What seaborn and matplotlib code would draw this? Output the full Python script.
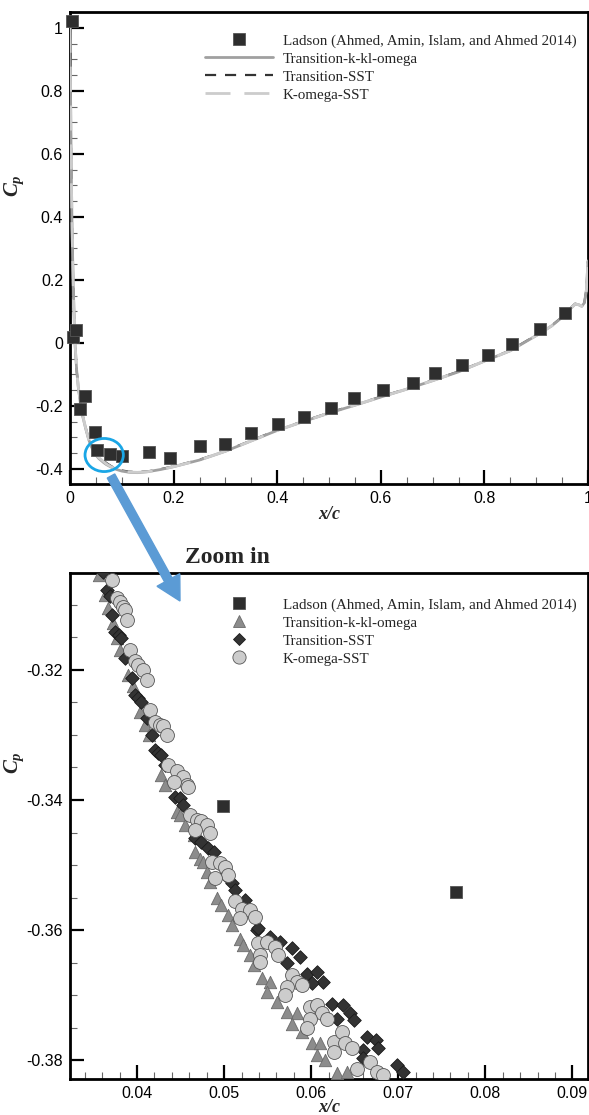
import numpy as np
import pandas as pd
import matplotlib
matplotlib.use("Agg")
import matplotlib.pyplot as plt
import seaborn as sns
from matplotlib.patches import Ellipse, FancyArrow
from matplotlib.lines import Line2D
from matplotlib.ticker import MultipleLocator, FuncFormatter

# ---------------- data ----------------
# Top panel: experimental Ladson data
lad_x = [0.003, 0.006, 0.011, 0.019, 0.029, 0.049, 0.052, 0.077, 0.100, 0.153, 0.194,
         0.250, 0.299, 0.349, 0.401, 0.452, 0.503, 0.548, 0.604, 0.662, 0.704, 0.757,
         0.807, 0.854, 0.908, 0.955]
lad_cp = [1.023, 0.018, 0.041, -0.210, -0.170, -0.282, -0.341, -0.354, -0.359, -0.348,
          -0.366, -0.327, -0.321, -0.285, -0.257, -0.234, -0.207, -0.176, -0.149, -0.128,
          -0.096, -0.070, -0.038, -0.004, 0.044, 0.096]

# Top panel: CFD curves
cfd_x = [0.0, 0.0005, 0.001, 0.002, 0.003, 0.004, 0.006, 0.008, 0.010, 0.013, 0.016,
         0.020, 0.025, 0.030, 0.036, 0.040, 0.045, 0.050, 0.055, 0.060, 0.065, 0.070,
         0.080, 0.090, 0.100, 0.115, 0.130, 0.150, 0.175, 0.200, 0.250, 0.300, 0.350,
         0.400, 0.450, 0.500, 0.550, 0.600, 0.650, 0.700, 0.750, 0.800, 0.850, 0.900,
         0.930, 0.950, 0.965, 0.975, 0.982, 0.988, 0.993, 0.997, 1.000]
cp_sst = [1.00, 0.90, 0.80, 0.62, 0.48, 0.36, 0.20, 0.08, -0.01, -0.09, -0.14,
          -0.19, -0.235, -0.268, -0.305, -0.323, -0.339, -0.350, -0.360, -0.367, -0.374, -0.381,
          -0.392, -0.400, -0.405, -0.409, -0.410, -0.408, -0.401, -0.392, -0.371, -0.343, -0.310,
          -0.277, -0.249, -0.222, -0.197, -0.171, -0.146, -0.119, -0.091, -0.057, -0.024, 0.024,
          0.055, 0.082, 0.108, 0.124, 0.122, 0.117, 0.128, 0.170, 0.26]
cp_kkl = [1.00, 0.90, 0.80, 0.62, 0.48, 0.36, 0.20, 0.08, -0.01, -0.09, -0.14,
          -0.19, -0.236, -0.270, -0.306, -0.325, -0.343, -0.356, -0.366, -0.373, -0.380, -0.386,
          -0.395, -0.402, -0.407, -0.411, -0.412, -0.409, -0.402, -0.393, -0.372, -0.344, -0.311,
          -0.278, -0.250, -0.223, -0.198, -0.172, -0.147, -0.120, -0.092, -0.058, -0.025, 0.023,
          0.054, 0.081, 0.107, 0.123, 0.121, 0.116, 0.127, 0.168, 0.26]
cp_kw = [1.00, 0.90, 0.80, 0.62, 0.48, 0.36, 0.20, 0.08, -0.01, -0.09, -0.14,
         -0.19, -0.235, -0.269, -0.306, -0.322, -0.340, -0.353, -0.363, -0.370, -0.377, -0.384,
         -0.394, -0.401, -0.406, -0.410, -0.411, -0.409, -0.402, -0.393, -0.372, -0.344, -0.311,
         -0.278, -0.250, -0.223, -0.198, -0.172, -0.147, -0.120, -0.092, -0.058, -0.025, 0.023,
         0.054, 0.081, 0.107, 0.123, 0.121, 0.116, 0.127, 0.168, 0.26]

# Bottom panel (zoom): Ladson points
zl_x = [0.0499, 0.0766]
zl_cp = [-0.3409, -0.3542]

# Bottom panel: Transition-k-kl-omega (triangles)
tk_x = [0.0356, 0.0363, 0.0367, 0.0372, 0.0377, 0.0381, 0.0390, 0.0395, 0.0403, 0.0409,
        0.0414, 0.0428, 0.0432, 0.0446, 0.0449, 0.0455, 0.0465, 0.0467, 0.0472, 0.0476,
        0.0480, 0.0484, 0.0492, 0.0497, 0.0505, 0.0509, 0.0518, 0.0522, 0.0530, 0.0534,
        0.0543, 0.0553, 0.0549, 0.0561, 0.0572, 0.0584, 0.0578, 0.0589, 0.0601, 0.0610,
        0.0607, 0.0616, 0.0630, 0.0641]
tk_cp = [-0.3054, -0.3085, -0.3105, -0.3128, -0.3151, -0.3170, -0.3208, -0.3225, -0.3264, -0.3285,
         -0.3300, -0.3362, -0.3377, -0.3418, -0.3423, -0.3438, -0.3454, -0.3480, -0.3490, -0.3495,
         -0.3510, -0.3526, -0.3551, -0.3562, -0.3577, -0.3592, -0.3613, -0.3623, -0.3638, -0.3654,
         -0.3674, -0.3680, -0.3695, -0.3710, -0.3726, -0.3728, -0.3744, -0.3756, -0.3774, -0.3774,
         -0.3792, -0.3800, -0.3820, -0.3818]

# Bottom panel: Transition-SST (diamonds)
ts_x = [0.0361, 0.0365, 0.0369, 0.0371, 0.0375, 0.0379, 0.0382, 0.0386, 0.0394, 0.0398,
        0.0401, 0.0405, 0.0411, 0.0417, 0.0421, 0.0424, 0.0428, 0.0432, 0.0444, 0.0449,
        0.0453, 0.0467, 0.0474, 0.0482, 0.0488, 0.0501, 0.0509, 0.0513, 0.0524, 0.0538,
        0.0539, 0.0553, 0.0564, 0.0578, 0.0587, 0.0572, 0.0595, 0.0607, 0.0614, 0.0601,
        0.0624, 0.0637, 0.0645, 0.0630, 0.0649, 0.0664, 0.0674, 0.0677, 0.0660, 0.0660,
        0.0699, 0.0706]
ts_cp = [-0.3050, -0.3077, -0.3087, -0.3115, -0.3141, -0.3146, -0.3151, -0.3182, -0.3212, -0.3238,
         -0.3243, -0.3249, -0.3274, -0.3300, -0.3323, -0.3328, -0.3331, -0.3346, -0.3395, -0.3397,
         -0.3408, -0.3459, -0.3464, -0.3474, -0.3480, -0.3515, -0.3528, -0.3538, -0.3554, -0.3600,
         -0.3597, -0.3610, -0.3618, -0.3628, -0.3641, -0.3651, -0.3667, -0.3664, -0.3680, -0.3682,
         -0.3713, -0.3715, -0.3728, -0.3736, -0.3738, -0.3764, -0.3769, -0.3782, -0.3785, -0.3797,
         -0.3808, -0.3818]

# Bottom panel: K-omega-SST (circles)
kw_x = [0.0371, 0.0377, 0.0380, 0.0384, 0.0386, 0.0388, 0.0392, 0.0398, 0.0401, 0.0407,
        0.0411, 0.0415, 0.0421, 0.0426, 0.0430, 0.0434, 0.0436, 0.0446, 0.0453, 0.0457,
        0.0442, 0.0459, 0.0461, 0.0469, 0.0474, 0.0480, 0.0484, 0.0467, 0.0486, 0.0495,
        0.0501, 0.0505, 0.0490, 0.0513, 0.0520, 0.0530, 0.0536, 0.0518, 0.0539, 0.0549,
        0.0559, 0.0562, 0.0541, 0.0541, 0.0578, 0.0584, 0.0589, 0.0572, 0.0570, 0.0599,
        0.0607, 0.0612, 0.0618, 0.0599, 0.0595, 0.0626, 0.0635, 0.0639, 0.0647, 0.0626,
        0.0653, 0.0668, 0.0676, 0.0683]
kw_cp = [-0.3062, -0.3089, -0.3095, -0.3103, -0.3108, -0.3123, -0.3169, -0.3187, -0.3192, -0.3200,
         -0.3215, -0.3262, -0.3280, -0.3285, -0.3287, -0.3300, -0.3346, -0.3356, -0.3364, -0.3377,
         -0.3372, -0.3380, -0.3423, -0.3431, -0.3433, -0.3438, -0.3451, -0.3446, -0.3495, -0.3497,
         -0.3503, -0.3515, -0.3520, -0.3556, -0.3567, -0.3569, -0.3580, -0.3582, -0.3620, -0.3618,
         -0.3626, -0.3638, -0.3638, -0.3649, -0.3669, -0.3680, -0.3685, -0.3687, -0.3700, -0.3718,
         -0.3715, -0.3728, -0.3736, -0.3736, -0.3751, -0.3772, -0.3756, -0.3774, -0.3782, -0.3787,
         -0.3813, -0.3803, -0.3818, -0.3823]

labels = ["Ladson (Ahmed, Amin, Islam, and Ahmed 2014)", "Transition-k-kl-omega",
          "Transition-SST", "K-omega-SST"]

# ---------------- style ----------------
sns.set_theme(style="ticks")
plt.rcParams["font.family"] = ["Liberation Sans", "DejaVu Sans"]
plt.rcParams["mathtext.fontset"] = "custom"
plt.rcParams["mathtext.it"] = "Liberation Serif:italic:bold"
plt.rcParams["mathtext.rm"] = "Liberation Serif:bold"
plt.rcParams["mathtext.bf"] = "Liberation Serif:bold"

W, H = 589, 1115
fig = plt.figure(figsize=(W / 100, H / 100), dpi=100)
ax1 = fig.add_axes([70 / W, 1 - 484 / H, 518 / W, 472 / H])
ax2 = fig.add_axes([70 / W, 1 - 1079 / H, 518 / W, 506 / H])

C_LAD = "#2e2e2e"
C_KKL_LINE = "#a0a0a0"
C_SST = "#333333"
C_KW_LINE = "#cccccc"

# ---------------- top panel ----------------
df_lad = pd.DataFrame({"x": lad_x, "cp": lad_cp})
df_cfd = pd.DataFrame({"x": cfd_x, "sst": cp_sst, "kkl": cp_kkl, "kw": cp_kw})

sns.lineplot(data=df_cfd, x="x", y="sst", ax=ax1, color=C_SST, lw=1.6,
             linestyle=(0, (5, 4)), sort=False, estimator=None, zorder=2)
sns.lineplot(data=df_cfd, x="x", y="kkl", ax=ax1, color=C_KKL_LINE, lw=2.0,
             sort=False, estimator=None, zorder=3)
sns.lineplot(data=df_cfd, x="x", y="kw", ax=ax1, color=C_KW_LINE, lw=2.0,
             linestyle=(0, (9, 5)), sort=False, estimator=None, zorder=4)
sns.scatterplot(data=df_lad, x="x", y="cp", ax=ax1, marker="s", s=85,
                color=C_LAD, edgecolor="#555555", linewidth=0.6, zorder=5, clip_on=False)

ax1.set_xlim(0, 1.0)
ax1.set_ylim(-0.448, 1.05)
ax1.xaxis.set_major_locator(MultipleLocator(0.2))
ax1.xaxis.set_minor_locator(MultipleLocator(0.05))
ax1.yaxis.set_major_locator(MultipleLocator(0.2))
ax1.yaxis.set_minor_locator(MultipleLocator(0.05))
fmt_g = FuncFormatter(lambda v, p: "%g" % round(v, 6))
ax1.xaxis.set_major_formatter(fmt_g)
ax1.yaxis.set_major_formatter(fmt_g)

ell = Ellipse((0.066, -0.356), width=0.074, height=0.105, fill=False,
              edgecolor="#1aa6e6", lw=2.0, zorder=6)
ax1.add_patch(ell)

# ---------------- bottom panel ----------------
df_tk = pd.DataFrame({"x": tk_x, "cp": tk_cp})
df_ts = pd.DataFrame({"x": ts_x, "cp": ts_cp})
df_kw = pd.DataFrame({"x": kw_x, "cp": kw_cp})
df_zl = pd.DataFrame({"x": zl_x, "cp": zl_cp})

sns.scatterplot(data=df_tk, x="x", y="cp", ax=ax2, marker="^", s=80,
                color="#8c8c8c", edgecolor="#6a6a6a", linewidth=0.6, zorder=3)
sns.scatterplot(data=df_ts, x="x", y="cp", ax=ax2, marker="D", s=48,
                color="#333333", edgecolor="#1a1a1a", linewidth=0.6, zorder=4)
sns.scatterplot(data=df_kw, x="x", y="cp", ax=ax2, marker="o", s=100,
                color="#cccccc", edgecolor="#555555", linewidth=0.6, zorder=5)
sns.scatterplot(data=df_zl, x="x", y="cp", ax=ax2, marker="s", s=75,
                color=C_LAD, edgecolor="#555555", linewidth=0.6, zorder=6)

ax2.set_xlim(0.0323, 0.0918)
ax2.set_ylim(-0.3829, -0.3051)
ax2.xaxis.set_major_locator(MultipleLocator(0.01))
ax2.xaxis.set_minor_locator(MultipleLocator(0.002))
ax2.yaxis.set_major_locator(MultipleLocator(0.02))
ax2.yaxis.set_minor_locator(MultipleLocator(0.005))
ax2.xaxis.set_major_formatter(fmt_g)
ax2.yaxis.set_major_formatter(fmt_g)

# ---------------- common axes styling ----------------
for ax, ylab_y, xlab_y in [(ax1, 0.633, -0.064), (ax2, 0.6245, -0.057)]:
    for sp in ax.spines.values():
        sp.set_linewidth(2.0)
        sp.set_color("black")
        sp.set_visible(True)
    ax.tick_params(which="major", direction="in", length=10, width=1.6,
                   labelsize=11.5, pad=5, top=False, right=False, colors="black")
    ax.tick_params(which="minor", direction="in", length=5, width=0.8,
                   top=False, right=False, color="#666666")
    for lab in ax.get_xticklabels() + ax.get_yticklabels():
        lab.set_fontfamily(["Liberation Sans", "DejaVu Sans"])
    ax.set_ylabel(r"$C_p$", fontsize=15, rotation=90)
    ax.yaxis.set_label_coords(-0.085, ylab_y)
    ax.set_xlabel("x/c", fontsize=13, fontstyle="italic", fontweight="bold",
                  family=["Liberation Serif", "DejaVu Serif"])
    ax.xaxis.set_label_coords(0.5, xlab_y)
    ax.xaxis.label.set_va("center")
    ax.set_facecolor("white")
    ax.grid(False)

# ---------------- legends ----------------
leg_font = {"family": ["Liberation Serif", "DejaVu Serif"], "size": 10.8}
h_top = [
    Line2D([], [], ls="none", marker="s", ms=8.5, mfc=C_LAD, mec="#555555", mew=0.6),
    Line2D([], [], color=C_KKL_LINE, lw=2.0),
    Line2D([], [], color=C_SST, lw=1.6, ls=(0, (5, 4))),
    Line2D([], [], color=C_KW_LINE, lw=2.0, ls=(0, (9, 5))),
]
ax1.legend(h_top, labels, loc="upper left", bbox_to_anchor=(205 / W, 1 - 34 / H),
           bbox_transform=fig.transFigure, frameon=False, prop=leg_font,
           handlelength=4.5, handletextpad=0.7, labelspacing=0.3, borderpad=0,
           borderaxespad=0)

h_bot = [
    Line2D([], [], ls="none", marker="s", ms=8.0, mfc=C_LAD, mec="#555555", mew=0.6),
    Line2D([], [], ls="none", marker="^", ms=9.0, mfc="#8c8c8c", mec="#6a6a6a", mew=0.6),
    Line2D([], [], ls="none", marker="D", ms=6.5, mfc="#333333", mec="#1a1a1a", mew=0.6),
    Line2D([], [], ls="none", marker="o", ms=9.5, mfc="#cccccc", mec="#555555", mew=0.6),
]
ax2.legend(h_bot, labels, loc="upper left", bbox_to_anchor=(205 / W, 1 - 598 / H),
           bbox_transform=fig.transFigure, frameon=False, prop=leg_font,
           handlelength=4.5, handletextpad=0.7, labelspacing=0.3, borderpad=0,
           borderaxespad=0)

# ---------------- annotations ----------------
arrow = FancyArrow(1.11, (H - 476) / 100, 0.69, -1.25, width=0.085, head_width=0.26,
                   head_length=0.24, length_includes_head=True, color="#5b9bd5",
                   transform=fig.dpi_scale_trans, zorder=10)
fig.add_artist(arrow)

fig.text(227 / W, 1 - 557 / H, "Zoom in", ha="center", va="center", fontsize=17,
         fontweight="bold", family=["Liberation Serif", "DejaVu Serif"])

fig.savefig("out.png", dpi=100, facecolor="white")
